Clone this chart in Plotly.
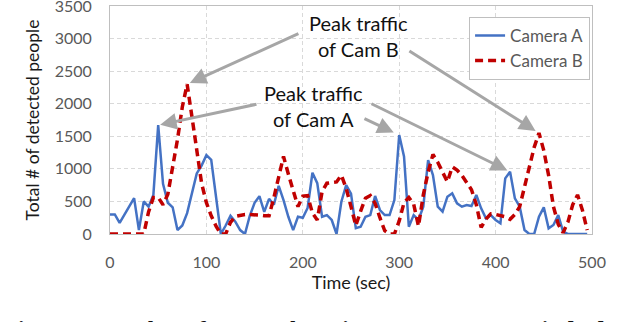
import plotly.graph_objects as go

# ---- data ----
time_sec = list(range(0, 500, 5))

camera_a = [300, 300, 170, 300, 430, 550, 60, 500, 420, 600,
            1670, 770, 480, 410, 60, 130, 320, 620, 930, 1050,
            1210, 1140, 560, 0, 130, 280, 190, 60, 0, 280,
            480, 580, 340, 540, 450, 740, 520, 265, 60, 265,
            250, 400, 940, 780, 265, 290, 215, 0, 495, 750,
            620, 90, 112, 265, 290, 583, 368, 290, 290, 520,
            1520, 1190, 112, 290, 215, 420, 1135, 905, 419, 342,
            572, 624, 470, 419, 445, 430, 598, 394, 240, 290,
            215, 164, 854, 956, 547, 419, 61, 0, 0, 265,
            409, 87, 138, 290, 35, 0, 0, 0, 0, 0]

camera_b = [0, 0, 0, 0, 0, 0, 0, 0, 340, 560,
            560, 450, 610, 1000, 1450, 1950, 2300, 1800, 1250, 780,
            480, 280, 120, 0, 0, 180, 270, 290, 300, 300,
            300, 290, 280, 280, 560, 850, 1190, 920, 680, 420,
            580, 590, 320, 215, 650, 780, 790, 800, 905, 700,
            420, 130, 350, 550, 590, 470, 250, 50, 0, 0,
            200, 480, 560, 460, 120, 600, 950, 1220, 1100, 960,
            800, 1030, 980, 900, 790, 680, 450, 100, 230, 310,
            300, 280, 265, 225, 300, 420, 740, 1060, 1330, 1550,
            1280, 900, 420, 150, 20, 180, 450, 600, 370, 60]

series_names = ["Camera A", "Camera B"]
x_ticks = [0, 100, 200, 300, 400, 500]
y_ticks = [0, 500, 1000, 1500, 2000, 2500, 3000, 3500]

FONT = "Lato"
BLUE = "#4472C4"
RED = "#C00000"
ARROW = "#A6A6A6"

fig = go.Figure()
fig.add_trace(go.Scatter(x=time_sec, y=camera_a, mode="lines", name=series_names[0],
                         line=dict(color=BLUE, width=2.5)))
fig.add_trace(go.Scatter(x=time_sec, y=camera_b, mode="lines", name=series_names[1],
                         line=dict(color=RED, width=3.5, dash="8px,5px")))

axis_common = dict(showline=True, linecolor="#bfbfbf", linewidth=1, mirror=True,
                   showgrid=True, gridcolor="#d9d9d9", griddash="4px,3px", gridwidth=1,
                   zeroline=False, ticks="", automargin=False, ticklabeloverflow="allow",
                   tickfont=dict(family=FONT, size=16, color="#595959"))

fig.update_xaxes(range=[0, 500], tickvals=x_ticks, ticklabelstandoff=14,
                 title=dict(text="Time (sec)", font=dict(family=FONT, size=18, color="#1a1a1a"), standoff=1),
                 **axis_common)
fig.update_yaxes(range=[0, 3500], tickvals=y_ticks, ticklabelstandoff=14,
                 title=dict(text="Total # of detected people", font=dict(family=FONT, size=17.5, color="#1a1a1a"), standoff=10),
                 **axis_common)

# peaks (indices into data)
def peak_idx(vals, lo, hi):
    sub = [(vals[i], i) for i in range(len(time_sec)) if lo <= time_sec[i] <= hi]
    return max(sub)[1]

a1 = peak_idx(camera_a, 0, 100)
a2 = peak_idx(camera_a, 250, 350)
a3 = peak_idx(camera_a, 380, 450)
b1 = peak_idx(camera_b, 0, 150)
b2 = peak_idx(camera_b, 400, 480)

arrows = [
    (b1, camera_b, 197, 3086, 3),
    (b2, camera_b, 309, 2825, 4),
    (a1, camera_a, 153.5, 1996, 2),
    (a2, camera_a, 262.4, 1781, 6),
    (a3, camera_a, 269.7, 2011, 3),
]
for idx, vals, tx, ty, so in arrows:
    fig.add_annotation(x=time_sec[idx], y=vals[idx], ax=tx, ay=ty, axref="x", ayref="y",
                       xref="x", yref="y", text="", showarrow=True, arrowhead=2,
                       arrowsize=1.1, arrowwidth=3, arrowcolor=ARROW, standoff=so)

fig.add_annotation(x=257.3, y=3047, xref="x", yref="y", text="Peak traffic<br>of Cam B",
                   showarrow=False, font=dict(family=FONT, size=20, color="#111111"),
                   align="center")
fig.add_annotation(x=210.6, y=1965, xref="x", yref="y", text="Peak traffic<br>of Cam A",
                   showarrow=False, font=dict(family=FONT, size=20, color="#111111"),
                   align="center")

fig.add_annotation(x=-0.224, y=-0.355, xref="paper", yref="paper", xanchor="left", yanchor="top",
                   text="<b>Figure 3: Number of person detections at two cameras in [31]</b>",
                   showarrow=False, font=dict(family="Liberation Serif", size=23, color="#111111"))

fig.update_layout(
    width=640, height=322,
    margin=dict(l=110, r=48, t=6, b=88, autoexpand=False),
    paper_bgcolor="white", plot_bgcolor="white",
    showlegend=True,
    legend=dict(x=0.996, y=0.952, xanchor="right", yanchor="top",
                bgcolor="white", bordercolor="#bfbfbf", borderwidth=1,
                font=dict(family=FONT, size=17, color="#595959"),
                tracegroupgap=0, itemwidth=30),
)

fig.write_html("out.html", config={"displayModeBar": False},
               post_script="document.body.style.margin='0px';")
